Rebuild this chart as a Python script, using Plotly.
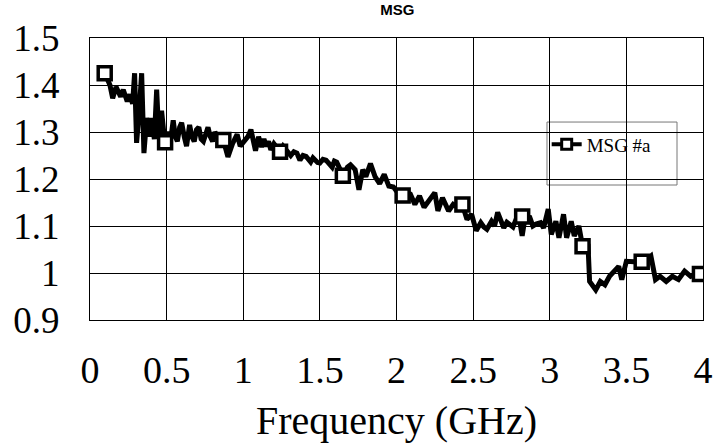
import plotly.graph_objects as go

freq = [0.08, 0.11, 0.13, 0.148, 0.17, 0.20, 0.217, 0.243, 0.26, 0.278, 0.291, 0.304, 0.32, 0.337,
        0.352, 0.37, 0.388, 0.40, 0.42, 0.435, 0.45, 0.467, 0.489, 0.51, 0.527, 0.543, 0.557, 0.57,
        0.585, 0.598, 0.615, 0.63, 0.65, 0.665, 0.68, 0.695, 0.71, 0.725, 0.74, 0.755, 0.77, 0.785,
        0.80, 0.815, 0.83, 0.85, 0.87, 0.90, 0.93, 0.96, 0.98, 1.01, 1.03, 1.05, 1.08,
        1.10, 1.12, 1.135, 1.15, 1.165, 1.18, 1.20, 1.22, 1.24, 1.26, 1.28, 1.295, 1.31, 1.33, 1.35,
        1.37, 1.39, 1.41, 1.425, 1.44, 1.455, 1.47, 1.485, 1.50, 1.52, 1.54, 1.56,
        1.58, 1.595, 1.61, 1.63, 1.65, 1.68, 1.70, 1.73, 1.755, 1.78, 1.80, 1.83, 1.86, 1.89, 1.92, 1.95,
        1.98, 2.01, 2.04, 2.07, 2.09, 2.12, 2.15, 2.18, 2.22, 2.25, 2.27, 2.30, 2.34, 2.37, 2.40, 2.43,
        2.46, 2.49, 2.52, 2.55, 2.57, 2.59, 2.62, 2.64, 2.66, 2.70, 2.72, 2.74, 2.76, 2.78, 2.80, 2.82,
        2.84, 2.87, 2.89, 2.91, 2.94,
        2.96, 2.99, 3.01, 3.04, 3.06, 3.09, 3.11, 3.14, 3.16, 3.19, 3.214, 3.25, 3.26, 3.30, 3.33,
        3.36, 3.39, 3.42, 3.45, 3.47, 3.50, 3.55, 3.59, 3.62, 3.66, 3.69, 3.72, 3.76, 3.80, 3.84,
        3.88, 3.92, 3.96, 4.00]
msg = [1.425, 1.415, 1.40, 1.372, 1.396, 1.375, 1.39, 1.365, 1.38, 1.36, 1.425, 1.277, 1.34, 1.425,
       1.255, 1.33, 1.29, 1.33, 1.285, 1.39, 1.285, 1.345, 1.275, 1.30, 1.285, 1.325, 1.29, 1.28,
       1.31, 1.32, 1.29, 1.27, 1.315, 1.29, 1.28, 1.305, 1.31, 1.285, 1.28, 1.30, 1.31, 1.29,
       1.28, 1.30, 1.29, 1.28, 1.283, 1.247, 1.275, 1.295, 1.27, 1.28, 1.29, 1.305, 1.26,
       1.29, 1.268, 1.285, 1.27, 1.28, 1.262, 1.275, 1.265, 1.258, 1.27, 1.262, 1.255, 1.25, 1.258, 1.255,
       1.24, 1.25, 1.248, 1.24, 1.236, 1.245, 1.24, 1.235, 1.234, 1.242, 1.24, 1.232,
       1.225, 1.238, 1.236, 1.222, 1.205, 1.225, 1.23, 1.22, 1.177, 1.22, 1.205, 1.233, 1.205, 1.19, 1.21, 1.185,
       1.183, 1.17, 1.165, 1.17, 1.168, 1.146, 1.164, 1.14, 1.16, 1.171, 1.132, 1.16, 1.132, 1.146, 1.14, 1.145,
       1.114, 1.125, 1.09, 1.107, 1.098, 1.093, 1.11, 1.10, 1.129, 1.096, 1.108, 1.104, 1.098, 1.114, 1.118, 1.079,
       1.12, 1.118, 1.10, 1.104, 1.107,
       1.096, 1.136, 1.082, 1.11, 1.075, 1.125, 1.075, 1.11, 1.079, 1.10, 1.057, 1.057, 0.982, 0.964, 0.982,
       0.975, 0.993, 1.004, 1.014, 0.986, 1.025, 1.024, 1.024, 1.025, 1.036, 0.986, 0.993, 0.982, 0.993, 0.986,
       1.004, 0.993, 0.998, 0.995]

marker_freq = [0.096, 0.49, 0.87, 1.24, 1.65, 2.04, 2.43, 2.82, 3.214, 3.60, 3.98]
marker_msg = [1.425, 1.278, 1.283, 1.258, 1.207, 1.165, 1.146, 1.12, 1.057, 1.024, 0.998]

x_ticks = [0, 0.5, 1, 1.5, 2, 2.5, 3, 3.5, 4]
x_labels = ["0", "0.5", "1", "1.5", "2", "2.5", "3", "3.5", "4"]
y_ticks = [0.9, 1.0, 1.1, 1.2, 1.3, 1.4, 1.5]
y_labels = ["0.9", "1", "1.1", "1.2", "1.3", "1.4", "1.5"]

serif = "Liberation Serif"

fig = go.Figure()
fig.add_trace(go.Scatter(x=freq, y=msg, mode="lines", line=dict(color="black", width=5),
                         showlegend=False, hoverinfo="skip"))
fig.add_trace(go.Scatter(x=marker_freq, y=marker_msg, mode="markers",
                         marker=dict(symbol="square", size=13, color="white",
                                     line=dict(color="black", width=3.5)),
                         showlegend=False))
fig.add_trace(go.Scatter(x=[None], y=[None], mode="lines+markers", name="MSG #a",
                         line=dict(color="black", width=4),
                         marker=dict(symbol="square", size=10, color="white",
                                     line=dict(color="black", width=3))))

fig.add_shape(type="rect", xref="paper", yref="paper", x0=0.7455, x1=0.9576, y0=0.4787, y1=0.702,
              line=dict(color="#777777", width=1), fillcolor="white", layer="below")

fig.update_layout(
    width=716, height=448,
    margin=dict(l=90, r=13, t=38, b=128, autoexpand=False),
    paper_bgcolor="white", plot_bgcolor="white",
    title=dict(text="<b>MSG</b>", x=0.555, xanchor="center", y=0.978, yanchor="middle",
               font=dict(family="Liberation Sans", size=15, color="black")),
    legend=dict(x=0.745, y=0.69, xanchor="left", yanchor="top", bgcolor="rgba(0,0,0,0)",
                borderwidth=0, font=dict(family=serif, size=19, color="black"),
                itemwidth=30, tracegroupgap=0),
    xaxis=dict(range=[0, 4], tickvals=x_ticks, ticktext=x_labels, showgrid=True,
               gridcolor="black", gridwidth=1, showline=True, linecolor="black", linewidth=1,
               mirror=True, zeroline=False, ticks="", ticklabelstandoff=16, automargin=False,
               tickfont=dict(family=serif, size=38, color="black"),
               title=dict(text="Frequency (GHz)", font=dict(family=serif, size=40, color="black"),
                          standoff=16)),
    yaxis=dict(range=[0.9, 1.5], tickvals=y_ticks, ticktext=y_labels, showgrid=True,
               gridcolor="black", gridwidth=1, showline=True, linecolor="black", linewidth=1,
               mirror=True, zeroline=False, ticks="", ticklabelstandoff=22, automargin=False,
               tickfont=dict(family=serif, size=37, color="black")),
)

fig.write_html("out.html")
